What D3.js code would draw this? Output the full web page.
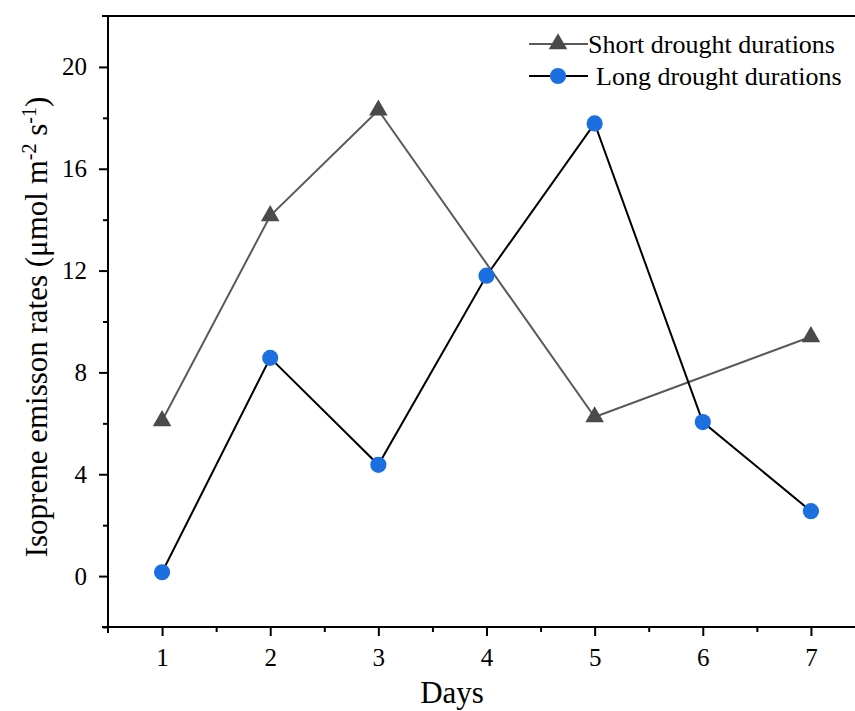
<!DOCTYPE html>
<html><head><meta charset="utf-8">
<script src="https://cdn.jsdelivr.net/npm/d3@7"></script>
<style>body{margin:0;background:#fff}svg{display:block}text{font-family:"Liberation Serif","Times New Roman",serif;fill:#000}</style>
</head><body><svg id="c" width="855" height="711"></svg>
<script>
const shortDays = [1, 2, 3, 5, 7];
const shortValues = [6.1, 14.15, 18.3, 6.25, 9.4];
const longDays = [1, 2, 3, 4, 5, 6, 7];
const longValues = [0.15, 8.57, 4.37, 11.8, 17.78, 6.05, 2.55];
const xTicks = [1, 2, 3, 4, 5, 6, 7];
const yTicks = [0, 4, 8, 12, 16, 20];
const seriesNames = ["Short drought durations", "Long drought durations"];

const FONT = '"Liberation Serif", "Times New Roman", serif';
const svg = d3.select("#c");
const x = d3.scaleLinear().domain([0.5, 7.5]).range([108, 865]);
const y = d3.scaleLinear().domain([-2, 22]).range([627, 16]);

const g = svg.append("g");
const xAxis = d3.axisBottom(x).tickValues(xTicks).tickSize(9).tickPadding(12).tickFormat(d3.format("d"));
const xMinor = d3.axisBottom(x).tickValues(d3.range(1.5, 7.5, 1)).tickSize(5).tickFormat("");
const yAxis = d3.axisLeft(y).tickValues(yTicks).tickSize(9).tickPadding(12).tickFormat(d3.format("d"));
const yMinor = d3.axisLeft(y).tickValues(d3.range(-2, 22, 2).filter(v => v % 4 !== 0)).tickSize(5).tickFormat("");

function style(sel){
  sel.attr("font-family", FONT).attr("font-size", 25);
  sel.select(".domain").remove();
  sel.selectAll(".tick line").attr("stroke", "#000").attr("stroke-width", 2);
  sel.selectAll(".tick text").attr("fill", "#000");
}
g.append("g").attr("transform", "translate(0,627)").call(xAxis).call(style);
g.append("g").attr("transform", "translate(0,627)").call(xMinor).call(style);
g.append("g").attr("transform", "translate(108,0)").call(yAxis).call(style);
g.append("g").attr("transform", "translate(108,0)").call(yMinor).call(style);

g.append("line").attr("x1", 102).attr("x2", 855).attr("y1", 627).attr("y2", 627).attr("stroke", "#000").attr("stroke-width", 2);
g.append("line").attr("x1", 102).attr("x2", 855).attr("y1", 16).attr("y2", 16).attr("stroke", "#000").attr("stroke-width", 2);
g.append("line").attr("x1", 108).attr("x2", 108).attr("y1", 16).attr("y2", 633).attr("stroke", "#000").attr("stroke-width", 2);

svg.append("text").attr("x", 452).attr("y", 703).attr("text-anchor", "middle").style("font-size", "31px").text("Days");
const yl = svg.append("text").attr("transform", "translate(47,327) rotate(-90)").attr("text-anchor", "middle").style("font-size", "31px");
yl.append("tspan").text("Isoprene emisson rates (μmol m");
yl.append("tspan").attr("dy", -11).style("font-size", "20px").text("-2");
yl.append("tspan").attr("dy", 11).text(" s");
yl.append("tspan").attr("dy", -11).style("font-size", "20px").text("-1");
yl.append("tspan").attr("dy", 11).text(")");

const shortData = shortDays.map((d, i) => ({d, v: shortValues[i]}));
const longData = longDays.map((d, i) => ({d, v: longValues[i]}));
const line = d3.line().x(p => x(p.d)).y(p => y(p.v));

const shortColor = "#5a5a5a", shortMarker = "#4a4a4a";
const longColor = "#000000", longMarker = "#1c6fe0";
const tri = d3.symbol().type(d3.symbolTriangle).size(150);
const circ = d3.symbol().type(d3.symbolCircle).size(205);

g.append("path").datum(shortData).attr("d", line).attr("fill", "none").attr("stroke", shortColor).attr("stroke-width", 2);
g.append("path").datum(longData).attr("d", line).attr("fill", "none").attr("stroke", longColor).attr("stroke-width", 2);
g.selectAll(".tri").data(shortData).join("path").attr("d", tri).attr("fill", shortMarker)
  .attr("transform", p => `translate(${x(p.d)},${y(p.v)})`);
g.selectAll(".circ").data(longData).join("path").attr("d", circ).attr("fill", longMarker)
  .attr("transform", p => `translate(${x(p.d)},${y(p.v)})`);

const leg = svg.append("g");
leg.append("line").attr("x1", 529).attr("x2", 588).attr("y1", 44).attr("y2", 44).attr("stroke", shortColor).attr("stroke-width", 2);
leg.append("path").attr("d", tri).attr("fill", shortMarker).attr("transform", "translate(558,44)");
leg.append("text").attr("x", 588).attr("y", 53).style("font-size", "26px").text(seriesNames[0]);
leg.append("line").attr("x1", 529).attr("x2", 588).attr("y1", 76).attr("y2", 76).attr("stroke", longColor).attr("stroke-width", 2);
leg.append("path").attr("d", circ).attr("fill", longMarker).attr("transform", "translate(558,76)");
leg.append("text").attr("x", 596).attr("y", 85).style("font-size", "26px").text(seriesNames[1]);
</script></body></html>
